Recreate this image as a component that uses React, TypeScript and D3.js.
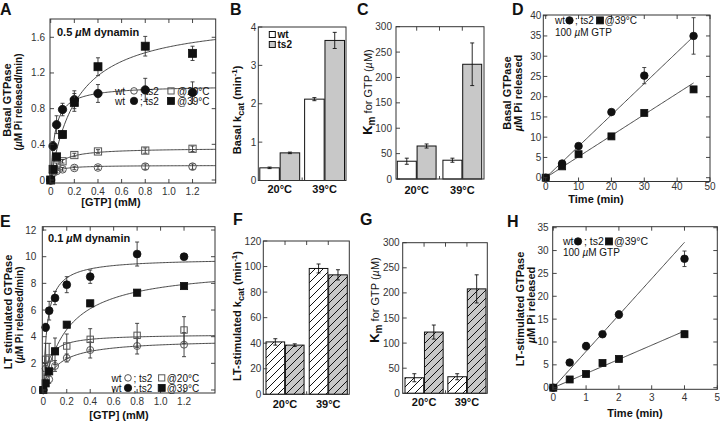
import React from "react";
import * as d3 from "d3";

const FONT = "'Liberation Sans', Arial, Helvetica, sans-serif";
const INK = "#111";
const AX = "#333";
const GRAY = "#c8c8c8";
const OPEN = "#555";

// ---------- Panel A : basal GTPase vs [GTP], 0.5 uM dynamin ----------
const gtpA = [0, 0.02, 0.05, 0.1, 0.2, 0.4, 0.8, 1.2];
const aWt20 = [0, 0.08, 0.1, 0.12, 0.135, 0.14, 0.15, 0.15];
const aWt20Err = [0, 0.01, 0.02, 0.02, 0.02, 0.02, 0.03, 0.03];
const aTs20 = [0, 0.12, 0.17, 0.21, 0.28, 0.32, 0.33, 0.35];
const aTs20Err = [0, 0.02, 0.02, 0.02, 0.02, 0.02, 0.03, 0.03];
const aWt39 = [0, 0.38, 0.62, 0.79, 0.9, 0.97, 1.01, 0.98];
const aWt39Err = [0, 0.05, 0.1, 0.07, 0.1, 0.1, 0.13, 0.12];
const aTs39 = [0, 0.12, 0.26, 0.51, 0.87, 1.27, 1.5, 1.42];
const aTs39Err = [0, 0.02, 0.03, 0.04, 0.1, 0.1, 0.11, 0.08];
// Michaelis-Menten fit parameters: wt20, ts2 20, wt39, ts2 39
const aFitVmax = [0.165, 0.36, 1.06, 1.83];
const aFitKm = [0.035, 0.065, 0.037, 0.226];
const aYTicks = [0, 0.4, 0.8, 1.2, 1.6];
const gtpTicks = [0, 0.2, 0.4, 0.6, 0.8, 1.0, 1.2];

// ---------- Panel E : LT-stimulated GTPase vs [GTP], 0.1 uM dynamin ----------
const gtpE = [0, 0.02, 0.05, 0.1, 0.2, 0.4, 0.8, 1.2];
const eWt20 = [0, 1.6, 0.8, 1.8, 2.4, 3.0, 3.3, 3.4];
const eWt20Err = [0, 0.4, 0.3, 0.4, 0.3, 0.6, 0.6, 0.9];
const eTs20 = [0, 2.3, 2.4, 2.9, 3.3, 3.8, 4.1, 4.5];
const eTs20Err = [0, 1.2, 1.1, 1.0, 0.9, 0.8, 0.9, 1.0];
const eWt39 = [0, 4.7, 5.95, 6.9, 7.9, 8.5, 10.2, 10.0];
const eWt39Err = [0, 0.3, 0.7, 0.5, 0.6, 0.5, 0.9, 0.2];
const eTs39 = [0, 0.5, 1.4, 2.9, 4.9, 6.5, 7.3, 7.8];
const eTs39Err = [0, 0.1, 0.2, 0.2, 0.2, 0.2, 0.2, 0.2];
const eFitVmax = [3.81, 4.19, 9.88, 9.3];
const eFitKm = [0.126, 0.041, 0.035, 0.21];
const eYTicks = [0, 2, 4, 6, 8, 10, 12];

// ---------- Panel D : basal time course ----------
const timeD = [0, 5, 10, 20, 30, 45];
const dWt = [0, 3.5, 7.8, 16.2, 25.2, 35];
const dWtErr = [0, 0.3, 0.5, 0.6, 2, 4.5];
const dTs = [0, 2.8, 5.8, 10.2, 16, 21.8];
const dTsErr = [0, 0.2, 0.3, 0.3, 0.4, 0.6];
const dSlope = [0.775, 0.52];
const dXTicks = [0, 10, 20, 30, 40, 50];
const dYTicks = [0, 5, 10, 15, 20, 25, 30, 35, 40];

// ---------- Panel H : LT-stimulated time course ----------
const timeH = [0, 0.5, 1, 1.5, 2, 4];
const hWt = [0, 5.5, 9.1, 11.7, 16, 28.2];
const hWtErr = [0, 0.5, 0.8, 0.5, 0.8, 1.7];
const hTs = [0, 1.8, 3.0, 5.4, 6.3, 11.7];
const hTsErr = [0, 0.2, 0.3, 0.3, 0.3, 0.7];
const hSlope = [7.95, 3.1];
const hXTicks = [0, 1, 2, 3, 4, 5];
const hYTicks = [0, 5, 10, 15, 20, 25, 30, 35];

// ---------- Bar panels ----------
const temps = ["20°C", "39°C"];
const bWt = [0.33, 2.12];
const bWtErr = [0.02, 0.04];
const bTs = [0.72, 3.65];
const bTsErr = [0.02, 0.21];
const bTicks = [0, 1, 2, 3, 4];

const cWt = [35, 37];
const cWtErr = [6, 4];
const cTs = [65, 226];
const cTsErr = [4, 42];
const kmTicks = [0, 50, 100, 150, 200, 250, 300];

const fWt = [41, 98.5];
const fWtErr = [2.5, 3.5];
const fTs = [38.5, 93.5];
const fTsErr = [1, 4];
const fTicks = [0, 20, 40, 60, 80, 100, 120];

const gWt = [31, 33];
const gWtErr = [8, 6];
const gTs = [122, 208];
const gTsErr = [14, 28];

type Frame = { l: number; r: number; t: number; b: number };
type Ser = { xs: number[]; ys: number[]; err: number[]; shape: "c" | "s"; filled: boolean };
type Fit = { f: (v: number) => number; x0: number; x1: number };

const mm = (vmax: number, km: number) => (s: number) => (vmax * s) / (km + s);
const lin = (slope: number) => (t: number) => slope * t;
const fmt1 = (v: number) => (v === 0 ? "0" : v.toFixed(1));
const fmt0 = (v: number) => String(v);

function Marker({ x, y, shape, filled, r, s }: { x: number; y: number; shape: "c" | "s"; filled: boolean; r: number; s: number }) {
  if (shape === "c")
    return <circle cx={x} cy={y} r={filled ? r : r - 0.4} fill={filled ? INK : "none"} stroke={filled ? INK : OPEN} strokeWidth={filled ? 0.8 : 1} />;
  const ss = filled ? s : s - 0.8;
  return <rect x={x - ss / 2} y={y - ss / 2} width={ss} height={ss} fill={filled ? INK : "none"} stroke={filled ? INK : OPEN} strokeWidth={filled ? 0.8 : 1} />;
}

function Scatter(p: {
  id: string; fr: Frame; xDom: [number, number]; yDom: [number, number];
  xTicks: number[]; yTicks: number[]; xFmt: (v: number) => string; yFmt: (v: number) => string;
  series: Ser[]; fits: Fit[]; r: number; s: number; yGap: number; xBase: number;
}) {
  const { fr } = p;
  const x = d3.scaleLinear().domain(p.xDom).range([fr.l, fr.r]);
  const y = d3.scaleLinear().domain(p.yDom).range([fr.b, fr.t]);
  const line = d3.line<[number, number]>().x((d) => x(d[0])).y((d) => y(d[1]));
  const T = 4;
  return (
    <g>
      <defs>
        <clipPath id={p.id}>
          <rect x={fr.l} y={fr.t} width={fr.r - fr.l} height={fr.b - fr.t} />
        </clipPath>
      </defs>
      <g clipPath={`url(#${p.id})`}>
        {p.fits.map((ft, i) => {
          const n = 120;
          const pts: [number, number][] = d3.range(n + 1).map((k) => {
            const v = ft.x0 + ((ft.x1 - ft.x0) * k) / n;
            return [v, ft.f(v)];
          });
          return <path key={i} d={line(pts) || ""} fill="none" stroke={AX} strokeWidth={0.9} />;
        })}
      </g>
      {p.series.map((se, si) => (
        <g key={si}>
          {se.xs.map((xv, i) =>
            se.err[i] > 0 ? (
              <g key={i} stroke={AX} strokeWidth={0.9}>
                <line x1={x(xv)} x2={x(xv)} y1={y(se.ys[i] - se.err[i])} y2={y(se.ys[i] + se.err[i])} />
                <line x1={x(xv) - 2} x2={x(xv) + 2} y1={y(se.ys[i] - se.err[i])} y2={y(se.ys[i] - se.err[i])} />
                <line x1={x(xv) - 2} x2={x(xv) + 2} y1={y(se.ys[i] + se.err[i])} y2={y(se.ys[i] + se.err[i])} />
              </g>
            ) : null
          )}
          {se.xs.map((xv, i) => (
            <Marker key={i} x={x(xv)} y={y(se.ys[i])} shape={se.shape} filled={se.filled} r={p.r} s={p.s} />
          ))}
        </g>
      ))}
      <rect x={fr.l} y={fr.t} width={fr.r - fr.l} height={fr.b - fr.t} fill="none" stroke={AX} strokeWidth={1} />
      <g stroke={AX} strokeWidth={0.9}>
        {p.yTicks.map((v) => (
          <g key={"y" + v}>
            <line x1={fr.l} x2={fr.l + T} y1={y(v)} y2={y(v)} />
            <line x1={fr.r} x2={fr.r - T} y1={y(v)} y2={y(v)} />
          </g>
        ))}
        {p.xTicks.map((v) => (
          <g key={"x" + v}>
            <line x1={x(v)} x2={x(v)} y1={fr.b} y2={fr.b - T} />
            <line x1={x(v)} x2={x(v)} y1={fr.t} y2={fr.t + T} />
          </g>
        ))}
      </g>
      <g fontFamily={FONT} fontSize={10} fill="#333">
        {p.yTicks.map((v) => (
          <text key={"yl" + v} x={fr.l - p.yGap} y={y(v)} dy="0.35em" textAnchor="end">{p.yFmt(v)}</text>
        ))}
        {p.xTicks.map((v) => (
          <text key={"xl" + v} x={x(v)} y={p.xBase} textAnchor="middle">{p.xFmt(v)}</text>
        ))}
      </g>
    </g>
  );
}

function Bars(p: {
  id: string; fr: Frame; yMax: number; yTicks: number[]; wt: number[]; wtErr: number[]; ts: number[]; tsErr: number[];
  range: [number, number]; pad: number; hatch: boolean; yGap: number; catBase: number; topTicks: boolean;
}) {
  const { fr } = p;
  const y = d3.scaleLinear().domain([0, p.yMax]).range([fr.b, fr.t]);
  const xb = d3.scaleBand<string>().domain(temps).range(p.range).paddingInner(p.pad);
  const xs = d3.scaleBand<string>().domain(["wt", "ts2"]).range([0, xb.bandwidth()]).paddingInner(0.04);
  const centers = temps.map((c) => (xb(c) as number) + xb.bandwidth() / 2);
  const mid = (centers[0] + centers[1]) / 2;
  const bars: { x: number; v: number; e: number; k: string }[] = [];
  temps.forEach((c, i) => {
    bars.push({ x: (xb(c) as number) + (xs("wt") as number), v: p.wt[i], e: p.wtErr[i], k: "wt" });
    bars.push({ x: (xb(c) as number) + (xs("ts2") as number), v: p.ts[i], e: p.tsErr[i], k: "ts2" });
  });
  const w = xs.bandwidth();
  return (
    <g>
      {bars.map((b, i) => {
        const fill = p.hatch ? `url(#hatch-${b.k})` : b.k === "wt" ? "#fff" : GRAY;
        return (
          <g key={i}>
            <rect x={b.x} y={y(b.v)} width={w} height={y(0) - y(b.v)} fill={fill} stroke={INK} strokeWidth={1} />
            <g stroke={INK} strokeWidth={0.9}>
              <line x1={b.x + w / 2} x2={b.x + w / 2} y1={y(b.v - b.e)} y2={y(b.v + b.e)} />
              <line x1={b.x + w / 2 - 2} x2={b.x + w / 2 + 2} y1={y(b.v - b.e)} y2={y(b.v - b.e)} />
              <line x1={b.x + w / 2 - 2} x2={b.x + w / 2 + 2} y1={y(b.v + b.e)} y2={y(b.v + b.e)} />
            </g>
          </g>
        );
      })}
      <rect x={fr.l} y={fr.t} width={fr.r - fr.l} height={fr.b - fr.t} fill="none" stroke={AX} strokeWidth={1} />
      <g stroke={AX} strokeWidth={0.9}>
        {p.yTicks.map((v) => (
          <line key={v} x1={fr.l} x2={fr.l + 4} y1={y(v)} y2={y(v)} />
        ))}
        {p.topTicks && [centers[0], mid, centers[1]].map((cx, i) => (
          <line key={"t" + i} x1={cx} x2={cx} y1={fr.t} y2={fr.t + 4} />
        ))}
        <line x1={mid} x2={mid} y1={fr.b} y2={fr.b - 3} />
      </g>
      <g fontFamily={FONT} fontSize={10} fill="#333">
        {p.yTicks.map((v) => (
          <text key={v} x={fr.l - p.yGap} y={y(v)} dy="0.35em" textAnchor="end">{v}</text>
        ))}
      </g>
      <g fontFamily={FONT} fontSize={11} fontWeight="bold" fill={INK}>
        {temps.map((c, i) => (
          <text key={c} x={centers[i]} y={p.catBase} textAnchor="middle">{c}</text>
        ))}
      </g>
    </g>
  );
}

function Rot({ cx, cy, children, size = 11, weight = "bold" }: { cx: number; cy: number; children: React.ReactNode; size?: number; weight?: string }) {
  return (
    <text transform={`translate(${cx},${cy}) rotate(-90)`} textAnchor="middle" dy="0.35em" fontFamily={FONT} fontSize={size} fontWeight={weight} fill={INK}>
      {children}
    </text>
  );
}

function Legend2({ x, base, pos, rows, size = 10 }: { x: number; base: number[]; pos: number[]; rows: { open: boolean; temp: string }[]; size?: number }) {
  // pos: [circleX, ts2TextX, squareX, tempTextX]
  return (
    <g fontFamily={FONT} fontSize={size} fill={INK}>
      {rows.map((rw, i) => (
        <g key={i}>
          <text x={x} y={base[i]}>wt</text>
          <Marker x={pos[0]} y={base[i] - 3.6} shape="c" filled={!rw.open} r={3.7} s={7} />
          <text x={pos[1]} y={base[i]}>; ts2</text>
          <Marker x={pos[2]} y={base[i] - 3.6} shape="s" filled={!rw.open} r={3.7} s={7} />
          <text x={pos[3]} y={base[i]}>{rw.temp}</text>
        </g>
      ))}
    </g>
  );
}

const Letter = ({ x, y, t }: { x: number; y: number; t: string }) => (
  <text x={x} y={y} fontFamily={FONT} fontSize={16} fontWeight="bold" fill={INK}>{t}</text>
);

export default function App() {
  const seriesA: Ser[] = [
    { xs: gtpA, ys: aWt20, err: aWt20Err, shape: "c", filled: false },
    { xs: gtpA, ys: aTs20, err: aTs20Err, shape: "s", filled: false },
    { xs: gtpA, ys: aWt39, err: aWt39Err, shape: "c", filled: true },
    { xs: gtpA, ys: aTs39, err: aTs39Err, shape: "s", filled: true },
  ];
  const fitsA: Fit[] = aFitVmax.map((v, i) => ({ f: mm(v, aFitKm[i]), x0: 0, x1: 1.4 }));
  const seriesE: Ser[] = [
    { xs: gtpE, ys: eWt20, err: eWt20Err, shape: "c", filled: false },
    { xs: gtpE, ys: eTs20, err: eTs20Err, shape: "s", filled: false },
    { xs: gtpE, ys: eWt39, err: eWt39Err, shape: "c", filled: true },
    { xs: gtpE, ys: eTs39, err: eTs39Err, shape: "s", filled: true },
  ];
  const fitsE: Fit[] = eFitVmax.map((v, i) => ({ f: mm(v, eFitKm[i]), x0: 0, x1: 1.47 }));
  const seriesD: Ser[] = [
    { xs: timeD, ys: dWt, err: dWtErr, shape: "c", filled: true },
    { xs: timeD, ys: dTs, err: dTsErr, shape: "s", filled: true },
  ];
  const fitsD: Fit[] = dSlope.map((s) => ({ f: lin(s), x0: 0, x1: 45 }));
  const seriesH: Ser[] = [
    { xs: timeH, ys: hWt, err: hWtErr, shape: "c", filled: true },
    { xs: timeH, ys: hTs, err: hTsErr, shape: "s", filled: true },
  ];
  const fitsH: Fit[] = hSlope.map((s) => ({ f: lin(s), x0: 0, x1: 4 }));

  const sub = (t: string) => <tspan dy={3} fontSize={9}>{t}</tspan>;

  return (
    <svg width={720} height={421} viewBox="0 0 720 421" style={{ position: "absolute", left: 0, top: 0, background: "#fff" }}>
      <defs>
        <pattern id="hatch-wt" patternUnits="userSpaceOnUse" width={8} height={8}>
          <rect width={8} height={8} fill="#fff" />
          <path d="M-2,2 L2,-2 M0,8 L8,0 M6,10 L10,6" stroke={INK} strokeWidth={1} />
        </pattern>
        <pattern id="hatch-ts2" patternUnits="userSpaceOnUse" width={8} height={8}>
          <rect width={8} height={8} fill={GRAY} />
          <path d="M-2,2 L2,-2 M0,8 L8,0 M6,10 L10,6" stroke={INK} strokeWidth={1} />
        </pattern>
      </defs>
      <rect width={720} height={421} fill="#fff" />

      {/* Panel letters */}
      <Letter x={0} y={15} t="A" />
      <Letter x={230} y={15} t="B" />
      <Letter x={357} y={15} t="C" />
      <Letter x={512} y={15} t="D" />
      <Letter x={0} y={226.5} t="E" />
      <Letter x={233} y={225} t="F" />
      <Letter x={360} y={225} t="G" />
      <Letter x={507} y={226.5} t="H" />

      {/* A */}
      <Scatter id="clipA" fr={{ l: 50, r: 215.7, t: 19, b: 183 }} xDom={[-0.0059, 1.396]} yDom={[-0.0336, 1.805]}
        xTicks={gtpTicks} yTicks={aYTicks} xFmt={fmt1} yFmt={fmt1} series={seriesA} fits={fitsA} r={4.2} s={8} yGap={5} xBase={194.5} />
      <text x={57} y={36} fontFamily={FONT} fontSize={11} fontWeight="bold" fill={INK}>0.5 <tspan fontStyle="italic">µ</tspan>M  dynamin</text>
      <Legend2 x={115} base={[94.5, 104.5]} pos={[134, 140, 171, 177]} rows={[{ open: true, temp: "@20°C" }, { open: false, temp: "@39°C" }]} />
      <Rot cx={7.5} cy={100}>Basal GTPase</Rot>
      <Rot cx={18.5} cy={102} size={10}>(<tspan fontStyle="italic">µ</tspan>M Pi released/min)</Rot>
      <text x={111} y={205.5} textAnchor="middle" fontFamily={FONT} fontSize={11} fontWeight="bold" fill={INK}>[GTP] (mM)</text>

      {/* B */}
      <Bars id="B" fr={{ l: 258.3, r: 346, t: 27, b: 180.5 }} yMax={4} yTicks={bTicks} wt={bWt} wtErr={bWtErr} ts={bTs} tsErr={bTsErr}
        range={[259.8, 344.5]} pad={0.11} hatch={false} yGap={2} catBase={192.5} topTicks={false} />
      <rect x={269.3} y={31.5} width={6} height={6} fill="#fff" stroke={INK} strokeWidth={1} />
      <rect x={269.3} y={41.5} width={6} height={6} fill={GRAY} stroke={INK} strokeWidth={1} />
      <text x={277.5} y={38} fontFamily={FONT} fontSize={10} fontWeight="bold" fill={INK}>wt</text>
      <text x={277.5} y={48} fontFamily={FONT} fontSize={10} fontWeight="bold" fill={INK}>ts2</text>
      <Rot cx={237} cy={110}>Basal k{sub("cat")}<tspan dy={-3}> (min</tspan><tspan dy={-4} fontSize={8}>-1</tspan><tspan dy={4}>)</tspan></Rot>

      {/* C */}
      <Bars id="C" fr={{ l: 396, r: 484, t: 26.7, b: 179 }} yMax={300} yTicks={kmTicks} wt={cWt} wtErr={cWtErr} ts={cTs} tsErr={cTsErr}
        range={[397.3, 481.7]} pad={0.15} hatch={false} yGap={4} catBase={193.5} topTicks={true} />
      <Rot cx={368} cy={92} weight="normal"><tspan fontWeight="bold" fontSize={13}>K</tspan><tspan fontWeight="bold" dy={3} fontSize={10}>m</tspan><tspan dy={-3}> for GTP (</tspan><tspan fontStyle="italic">µ</tspan>M)</Rot>

      {/* D */}
      <Scatter id="clipD" fr={{ l: 543.3, r: 710, t: 15, b: 181.5 }} xDom={[-0.73, 50]} yDom={[-0.94, 40.17]}
        xTicks={dXTicks} yTicks={dYTicks} xFmt={fmt0} yFmt={fmt0} series={seriesD} fits={fitsD} r={3.8} s={7} yGap={2} xBase={190} />
      <Legend2 x={555} base={[24]} pos={[569.5, 575, 600, 604.5]} rows={[{ open: false, temp: "@39°C" }]} />
      <text x={555} y={36} fontFamily={FONT} fontSize={10} fill={INK}>100 <tspan fontStyle="italic">µ</tspan>M GTP</text>
      <Rot cx={507.5} cy={93}>Basal GTPase</Rot>
      <Rot cx={518.5} cy={93}><tspan fontStyle="italic">µ</tspan>M Pi released</Rot>
      <text x={596} y={203} textAnchor="middle" fontFamily={FONT} fontSize={11} fontWeight="bold" fill={INK}>Time (min)</text>

      {/* E */}
      <Scatter id="clipE" fr={{ l: 42.3, r: 215, t: 226.7, b: 393 }} xDom={[-0.0085, 1.464]} yDom={[-0.225, 12.25]}
        xTicks={gtpTicks} yTicks={eYTicks} xFmt={fmt1} yFmt={fmt0} series={seriesE} fits={fitsE} r={3.9} s={7.2} yGap={6} xBase={405} />
      <text x={48} y={242} fontFamily={FONT} fontSize={11} fontWeight="bold" fill={INK}>0.1 <tspan fontStyle="italic">µ</tspan>M  dynamin</text>
      <Legend2 x={111.5} base={[381.5, 391.5]} pos={[128, 133.5, 161.7, 166.7]} rows={[{ open: true, temp: "@20°C" }, { open: false, temp: "@39°C" }]} />
      <Rot cx={8.5} cy={312}>LT stimulated GTPase</Rot>
      <Rot cx={19.5} cy={315} size={10}>(<tspan fontStyle="italic">µ</tspan>M Pi released/min)</Rot>
      <text x={119} y={419} textAnchor="middle" fontFamily={FONT} fontSize={11} fontWeight="bold" fill={INK}>[GTP] (mM)</text>

      {/* F */}
      <Bars id="F" fr={{ l: 263.3, r: 349.3, t: 241, b: 394.3 }} yMax={120} yTicks={fTicks} wt={fWt} wtErr={fWtErr} ts={fTs} tsErr={fTsErr}
        range={[266, 347.3]} pad={0.12} hatch={true} yGap={2} catBase={407.5} topTicks={true} />
      <Rot cx={237} cy={316}>LT-stimulated k{sub("cat")}<tspan dy={-3}> (min</tspan><tspan dy={-4} fontSize={8}>-1</tspan><tspan dy={4}>)</tspan></Rot>

      {/* G */}
      <Bars id="G" fr={{ l: 402.7, r: 487.3, t: 242.7, b: 393.3 }} yMax={300} yTicks={kmTicks} wt={gWt} wtErr={gWtErr} ts={gTs} tsErr={gTsErr}
        range={[405, 486]} pad={0.11} hatch={true} yGap={3} catBase={406} topTicks={true} />
      <Rot cx={375} cy={300} weight="normal"><tspan fontWeight="bold" fontSize={13}>K</tspan><tspan fontWeight="bold" dy={3} fontSize={10}>m</tspan><tspan dy={-3}> for GTP (</tspan><tspan fontStyle="italic">µ</tspan>M)</Rot>

      {/* H */}
      <Scatter id="clipH" fr={{ l: 552.7, r: 717.3, t: 226.7, b: 389.3 }} xDom={[-0.018, 5.0]} yDom={[-0.35, 35.22]}
        xTicks={hXTicks} yTicks={hYTicks} xFmt={fmt0} yFmt={fmt0} series={seriesH} fits={fitsH} r={3.8} s={7} yGap={4} xBase={401} />
      <Legend2 x={563} base={[245]} pos={[578, 584, 609, 614]} rows={[{ open: false, temp: "@39°C" }]} size={10.5} />
      <text x={563} y={256} fontFamily={FONT} fontSize={10} fill={INK}>100 <tspan fontStyle="italic">µ</tspan>M GTP</text>
      <Rot cx={520} cy={309}>LT-stimulated GTPase</Rot>
      <Rot cx={531.5} cy={305}><tspan fontStyle="italic">µ</tspan>M Pi released</Rot>
      <text x={635} y={417} textAnchor="middle" fontFamily={FONT} fontSize={11} fontWeight="bold" fill={INK}>Time (min)</text>
    </svg>
  );
}
